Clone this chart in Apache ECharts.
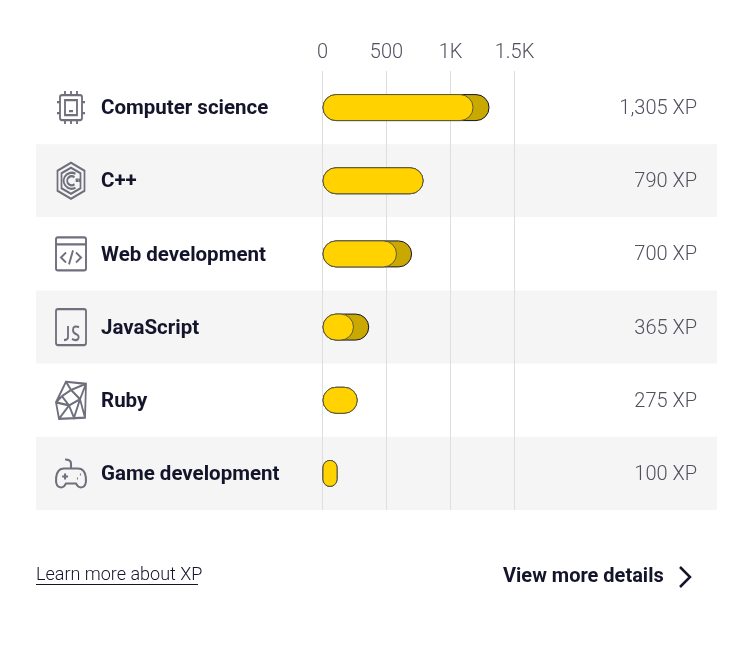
<!DOCTYPE html>
<html>
<head>
<meta charset="utf-8">
<style>
html, body { margin: 0; padding: 0; background: #fff; }
#main { width: 750px; height: 648px; }
</style>
<script src="https://cdn.jsdelivr.net/npm/echarts@6/dist/echarts.min.js"></script>
</head>
<body>
<div id="main"></div>
<script>
var categories = ['Computer science', 'C++', 'Web development', 'JavaScript', 'Ruby', 'Game development'];
var totalXp = [1305, 790, 700, 365, 275, 100];
var innerXp = [1180, 790, 582, 246, 275, 100];
var tickLabels = { 0: '0', 500: '500', 1000: '1K', 1500: '1.5K' };
var totalLabels = ['1,305 XP', '790 XP', '700 XP', '365 XP', '275 XP', '100 XP'];

// icons, drawn as scatter symbols
var iconPaths = [
	'path://M5 4H23Q25 4 25 6V27Q25 29 23 29H5Q3 29 3 27V6Q3 4 5 4Z M8 9H20V24H8Z M12 20H16 M8 0V4 M14 0V4 M20 0V4 M8 29V33 M14 29V33 M20 29V33 M0 11H3 M0 22H3 M25 11H28 M25 22H28',
	'path://M13.5 0L27 8V28L13.5 36L0 28V8Z M13.5 5L23 10.5V25.5L13.5 31L4 25.5V10.5Z M18 11A8 8 0 1 0 18 25 M17 14.5A4.5 4.5 0 1 0 17 21.5 M19 17H20V18H19Z M22 17H23V18H22Z',
	'path://M2 0H28Q30 0 30 2V31Q30 33 28 33H2Q0 33 0 31V2Q0 0 2 0Z M0 7H30 M10 15L5 20L10 25 M20 15L25 20L20 25 M17 13L13 27',
	'path://M2 0H28Q30 0 30 2V34Q30 36 28 36H2Q0 36 0 34V2Q0 0 2 0Z M12 17V28Q12 31 8 31 M23 18Q17 16 17 21Q17 24 20 25Q24 27 22 30Q20 32 16 30',
	'path://M10 1L30 3L29 36L3 37L0 21Z M10 1L15 9L30 3 M15 9L6 15L0 21 M15 9L24 18L30 3 M6 15L13 24L24 18L29 36 M13 24L3 37 M13 24L18 36L24 18 M0 21L13 24',
	'path://M15 9V4Q15 0 9 0 M8 9H22Q29 9 30 18Q31 28 25 28Q22 28 20 24H10Q8 28 5 28Q-1 28 0 18Q1 9 8 9Z M6 17H12 M9 14V20 M21 19H22 M24 15H25'
];
var iconSizes = [[28, 33], [27, 36], [30, 33], [30, 36], [30, 37], [30, 28]];

var chart = echarts.init(document.getElementById('main'));

var textColor = '#14142b';
var softColor = '#50505f';
var fontName = 'Roboto';

var option = {
	animation: false,
	backgroundColor: '#fff',
	grid: [
		{ left: 36, right: 33, top: 71, bottom: 138 }, // stripes, names, icons
		{ left: 322.5, width: 192, top: 71, bottom: 138 } // bars
	],
	xAxis: [
		{ gridIndex: 0, type: 'value', min: 0, max: 681, show: false },
		{
			gridIndex: 1,
			type: 'value',
			position: 'top',
			min: 0,
			max: 1500,
			interval: 500,
			axisLine: { show: false },
			axisTick: { show: false },
			axisLabel: {
				margin: 8,
				color: softColor,
				fontFamily: fontName,
				fontSize: 20,
				fontWeight: 300,
				formatter: function(v) {
					return tickLabels[v];
				}
			},
			splitLine: { show: true, lineStyle: { color: '#dedede', width: 1 } }
		}
	],
	yAxis: [
		{
			gridIndex: 0,
			type: 'category',
			inverse: true,
			data: categories,
			axisLine: { show: false },
			axisTick: { show: false },
			splitLine: { show: false },
			splitArea: { show: true, areaStyle: { color: ['#ffffff', '#f5f5f5'] } },
			axisLabel: {
				inside: true,
				margin: 65,
				formatter: '{n|{value}}',
				rich: {
					n: {
						padding: [3, 0, 0, 0],
						color: textColor,
						fontFamily: fontName,
						fontSize: 20.5,
						fontWeight: 700
					}
				}
			}
		},
		{
			gridIndex: 0,
			type: 'category',
			inverse: true,
			position: 'right',
			data: totalLabels,
			axisLine: { show: false },
			axisTick: { show: false },
			axisLabel: {
				inside: true,
				margin: 20,
				formatter: '{n|{value}}',
				rich: {
					n: {
						padding: [3, 0, 0, 0],
						color: softColor,
						fontFamily: fontName,
						fontSize: 20,
						fontWeight: 300
					}
				}
			}
		},
		{
			gridIndex: 1,
			type: 'category',
			inverse: true,
			data: categories,
			axisLine: { show: false },
			axisTick: { show: false },
			axisLabel: { show: false }
		}
	],
	series: [
		{
			type: 'scatter',
			xAxisIndex: 0,
			yAxisIndex: 0,
			z: 5,
			data: categories.map(function(c, i) {
				return {
					value: [35, c],
					symbol: iconPaths[i],
					symbolSize: iconSizes[i]
				};
			}),
			itemStyle: {
				color: 'rgba(0,0,0,0)',
				borderColor: '#6f6f7d',
				borderWidth: 2,
				opacity: 1
			}
		},
		{
			name: 'total',
			type: 'bar',
			xAxisIndex: 1,
			yAxisIndex: 2,
			data: totalXp,
			barWidth: 27,
			barGap: '-100%',
			barMinHeight: 15,
			z: 6,
			itemStyle: {
				color: '#c9a800',
				borderColor: textColor,
				borderWidth: 1,
				borderRadius: 14
			}
		},
		{
			name: 'inner',
			type: 'bar',
			xAxisIndex: 1,
			yAxisIndex: 2,
			data: innerXp,
			barWidth: 27,
			barGap: '-100%',
			barMinHeight: 15,
			z: 7,
			itemStyle: {
				color: '#ffd200',
				borderColor: '#5c5a3a',
				borderWidth: 1,
				borderRadius: 14
			}
		}
	],
	graphic: [
		{
			type: 'text',
			left: 36,
			top: 566,
			style: { text: 'Learn more about XP', fill: textColor, font: '300 18px Roboto' }
		},
		{
			type: 'line',
			shape: { x1: 36, y1: 584.5, x2: 198, y2: 584.5 },
			style: { stroke: textColor, lineWidth: 1 }
		},
		{
			type: 'text',
			left: 503,
			top: 567,
			style: { text: 'View more details', fill: textColor, font: '700 20px Roboto' }
		},
		{
			type: 'polyline',
			shape: { points: [[680, 567], [690, 577], [680, 587]] },
			style: { stroke: textColor, lineWidth: 2.5, fill: 'none' }
		}
	]
};

chart.setOption(option);
</script>
</body>
</html>
